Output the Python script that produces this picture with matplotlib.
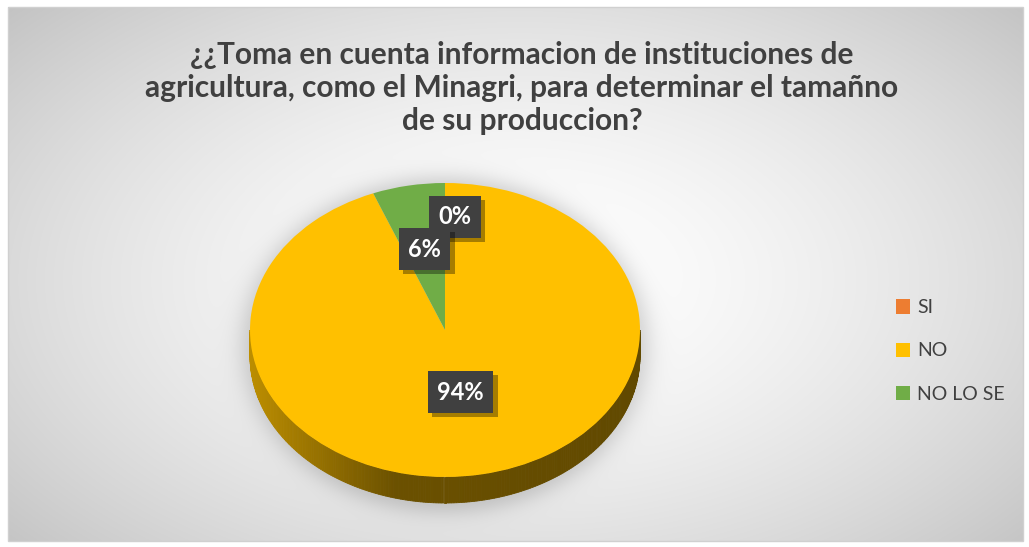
import numpy as np
import matplotlib
matplotlib.use('Agg')
import matplotlib.pyplot as plt
from matplotlib.patches import Polygon, Rectangle
import matplotlib.patheffects as pe
from matplotlib.colors import to_rgb

# ---------------- data ----------------
categories = ['SI', 'NO', 'NO LO SE']
values = [0, 94, 6]
colors = ['#ED7D31', '#FFC000', '#70AD47']
title = ('¿¿Toma en cuenta informacion de instituciones de\n'
         'agricultura, como el Minagri, para determinar el tamañno\n'
         'de su produccion?')

# ---------------- figure ----------------
W, H = 1029, 547
fig = plt.figure(figsize=(W / 100, H / 100), dpi=100)
fig.patch.set_facecolor('white')

# background with radial gradient + soft pie shadow (pixel coordinates)
bg = fig.add_axes([0, 0, 1, 1], zorder=0)
bg.set_xlim(0, W)
bg.set_ylim(H, 0)
bg.axis('off')
x0, x1, y0, y1 = 8, 1023, 7, 541
xs = np.linspace(x0, x1, 600)
ys = np.linspace(y0, y1, 320)
X, Y = np.meshgrid(xs, ys)
r = np.sqrt(((X - 520) / 560) ** 2 + ((Y - 280) / 330) ** 2)
val = np.clip(r / 1.25, 0, 1)
lum = 1.0 - 0.24 * val ** 1.6
d = np.sqrt(((X - 445) / 203) ** 2 + ((Y - 345) / 168) ** 2)
shadow = 0.18 / (1 + np.exp((d - 1.0) / 0.035))
lum = lum * (1 - shadow)
img = np.dstack([lum, lum, lum])
bg.imshow(img, extent=(x0, x1, y1, y0), aspect='auto', interpolation='bilinear', zorder=0)
bg.add_patch(Rectangle((x0, y0), x1 - x0, y1 - y0, fill=False, ec='#d0d0d0', lw=1, zorder=1))

# ---------------- pie ----------------
ax = fig.add_axes([0, 0, 1, 1], zorder=2)
ax.patch.set_alpha(0)
cx_px, cy_px, rx_px, ry_px = 445, 330, 195, 147
depth = 26 / ry_px

wedges, texts, autotexts = ax.pie(
    values, colors=colors, startangle=90, counterclock=False,
    autopct='%1.0f%%', pctdistance=0.5, radius=1.0,
    wedgeprops=dict(linewidth=0, zorder=3),
    textprops=dict(color='white', fontsize=17, fontweight='bold', family='Lato'),
)
ax.set_aspect('auto')
ax.set_xlim(-cx_px / rx_px, (W - cx_px) / rx_px)
ax.set_ylim(-(H - cy_px) / ry_px, cy_px / ry_px)
ax.axis('off')

# 3D side of the pie (front half)
def wedge_color_at(theta_deg):
    for w, c in zip(wedges, colors):
        t1, t2 = sorted([w.theta1, w.theta2])
        if w.theta2 == w.theta1:
            continue
        a = (theta_deg - t1) % 360
        if a <= (t2 - t1):
            return c
    return colors[1]

thetas = np.linspace(180, 360, 240)
for ta, tb in zip(thetas[:-1], thetas[1:]):
    xa, ya = np.cos(np.radians(ta)), np.sin(np.radians(ta))
    xb, yb = np.cos(np.radians(tb)), np.sin(np.radians(tb))
    xm = 0.5 * (xa + xb)
    f = np.interp(xm, [-1.0, -0.25, 1.0], [0.74, 0.42, 0.38])
    base = np.array(to_rgb(wedge_color_at(0.5 * (ta + tb))))
    col = np.clip(base * f, 0, 1)
    ax.add_patch(Polygon([(xa, ya), (xb, yb), (xb, yb - depth), (xa, ya - depth)],
                         closed=True, fc=col, ec=col, lw=0.6, zorder=2))

# data labels
label_dist = [0.77, 0.43, 0.56]
label_nudge = [0.05, 0.0, 0.0]
for w, t, dist, nud in zip(wedges, autotexts, label_dist, label_nudge):
    ang = np.radians(0.5 * (w.theta1 + w.theta2))
    t.set_position((dist * np.cos(ang) + nud, dist * np.sin(ang)))
    t.set_zorder(6)
    t.set_bbox(dict(boxstyle='square,pad=0.4', fc='#404040', ec='none'))
    t.get_bbox_patch().set_path_effects([
        pe.SimplePatchShadow(offset=(3, -3), shadow_rgbFace='black', alpha=0.35),
        pe.Normal()])

# ---------------- title ----------------
fig.text(522 / W, 1 - 88 / H, title, ha='center', va='center', fontsize=21.5,
         fontweight='bold', color='#404040', family='Lato', linespacing=1.2)

# ---------------- legend ----------------
leg = ax.legend(wedges, categories, loc='center left',
                bbox_to_anchor=(888 / W, 1 - 351 / H), bbox_transform=fig.transFigure,
                frameon=False, handlelength=0.75, handleheight=0.75, handletextpad=0.35,
                labelspacing=1.35, borderaxespad=0, prop=dict(family='Lato', size=14))
for t in leg.get_texts():
    t.set_color('#404040')

fig.savefig('out.png', dpi=100)
